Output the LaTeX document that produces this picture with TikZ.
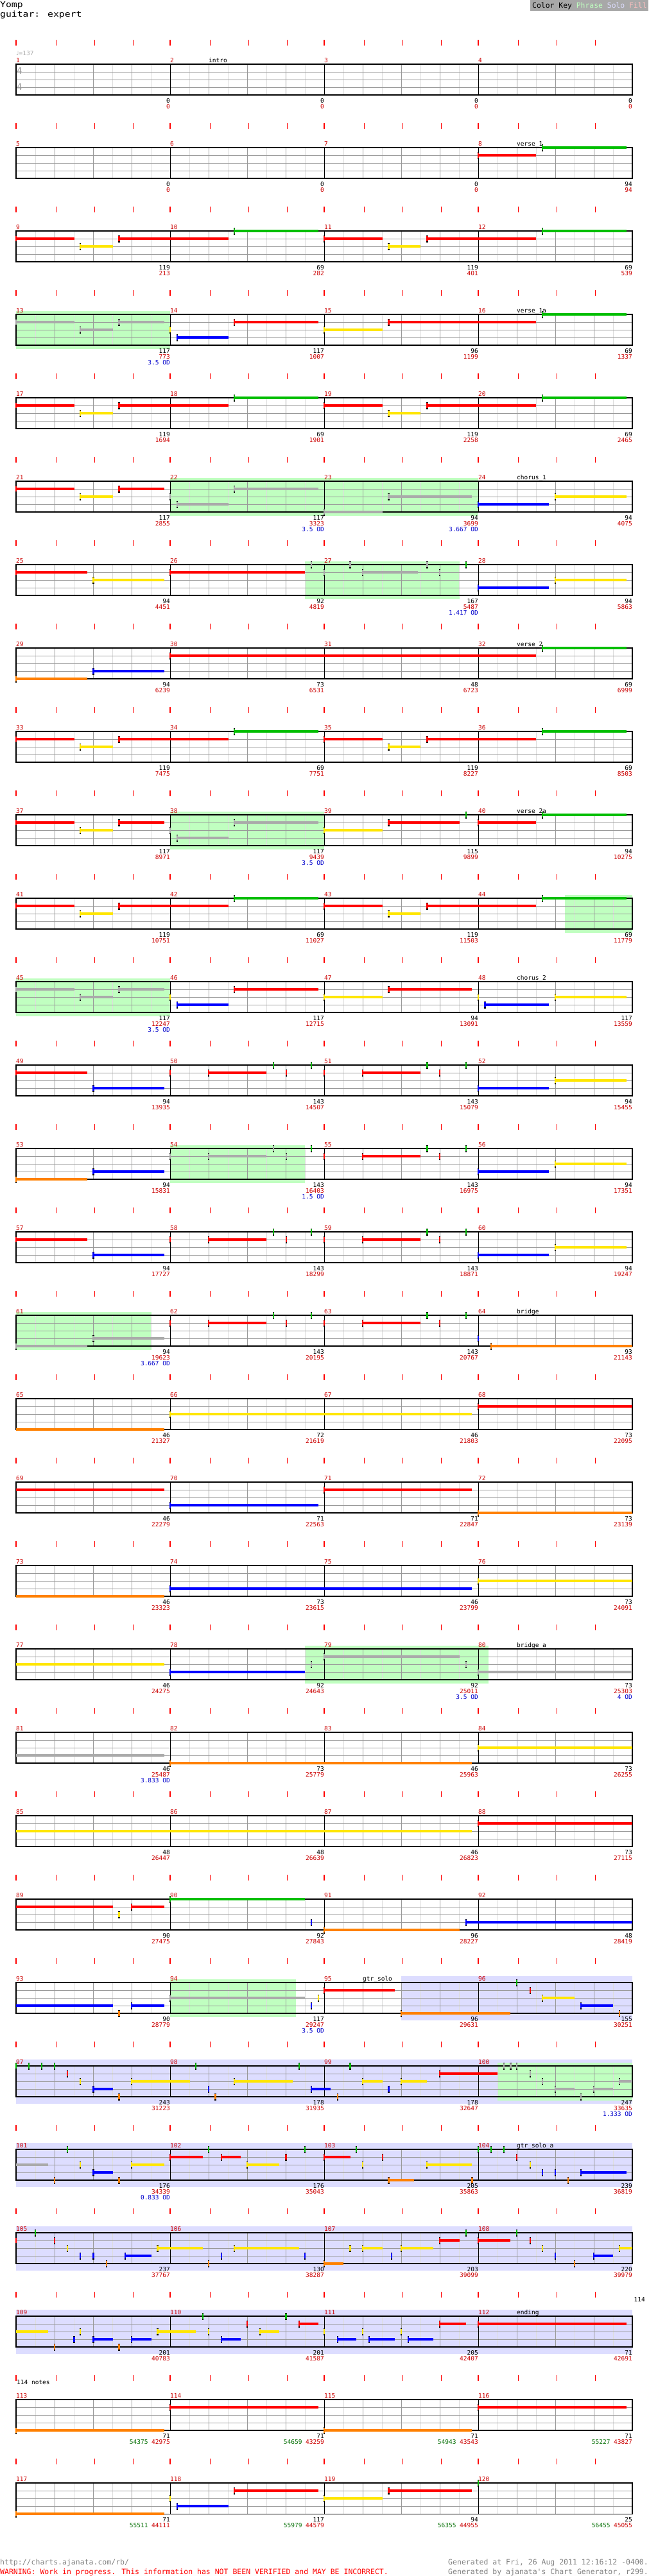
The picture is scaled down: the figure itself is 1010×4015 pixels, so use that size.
\documentclass[tikz,border=0pt]{standalone}
\usepackage{fontspec}
\newfontfamily\mf{DejaVu Sans Mono}
\newfontfamily\mfw[FakeStretch=1.18]{DejaVu Sans Mono}
\newfontfamily\symf{DejaVu Sans}
\definecolor{cG}{RGB}{0,190,0}
\definecolor{cR}{RGB}{255,0,0}
\definecolor{cY}{RGB}{255,230,0}
\definecolor{cB}{RGB}{0,0,255}
\definecolor{cO}{RGB}{255,128,0}
\definecolor{cX}{RGB}{170,170,170}
\definecolor{phrc}{RGB}{192,255,192}
\definecolor{soloc}{RGB}{221,221,255}
\definecolor{fillc}{RGB}{255,192,192}
\definecolor{keybg}{RGB}{168,168,168}
\definecolor{lgrid}{RGB}{221,221,221}
\definecolor{mgrid}{RGB}{153,153,153}
\definecolor{mnumc}{RGB}{204,0,0}
\definecolor{odc}{RGB}{0,0,204}
\definecolor{scoreg}{RGB}{0,110,0}
\definecolor{footg}{RGB}{128,128,128}
\tikzset{
  lab/.style={inner sep=0pt, font=\mf\fontsize{9.5}{11}\selectfont},
  foot/.style={inner sep=0pt, font=\mf\fontsize{11.5}{12}\selectfont},
}
\newcommand\rowtop[1]{\pgfmathsetmacro\Yt{100+130*(#1-1)}}
\newcommand\staff[1]{%
  \rowtop{#1}%
  \foreach \k in {1,3,...,31} {\draw[lgrid, line width=0.9pt] ({25+30*\k},\Yt) -- ({25+30*\k},{\Yt+48});}
  \foreach \k in {2,4,6,10,12,14,18,20,22,26,28,30} {\draw[mgrid, line width=0.9pt] ({25+30*\k},\Yt) -- ({25+30*\k},{\Yt+48});}
  \foreach \k in {1,2,3} {\draw[mgrid, line width=1pt] (25,{\Yt+12*\k}) -- (985,{\Yt+12*\k});}
  \foreach \k in {8,16,24} {\draw[black, line width=0.8pt] ({25+30*\k},\Yt) -- ({25+30*\k},{\Yt+48});}
  \draw[black, line width=1.1pt] (25,\Yt) rectangle (985,{\Yt+48});
  \foreach \k in {0,...,15} {\pgfmathsetmacro\tx{25+60*\k+ifthenelse(mod(\k,4)==0,0,2.5)}\draw[cR, line width=1.5pt] (\tx,{\Yt-38}) -- (\tx,{\Yt-29});}
  \foreach \ii in {0,...,3} {\pgfmathtruncatemacro\mm{4*(#1-1)+\ii+1}\node[lab, text=mnumc, anchor=base west] (mn\mm) at ({25+240*\ii},{\Yt-3}) {\mm};}
}
\newcommand\labs[2]{%
  \rowtop{#1}%
  \foreach \bb/\rr [count=\ii] in {#2} {%
    \node[lab, anchor=base east] (lb#1-\ii) at ({25+240*\ii},{\Yt+60}) {\bb};
    \node[lab, text=mnumc, anchor=base east] (lr#1-\ii) at ({25+240*\ii},{\Yt+69.5}) {\rr};}
}
\newcommand\labg[2]{%
  \rowtop{#1}%
  \foreach \bb/\gg/\rr [count=\ii] in {#2} {%
    \node[lab, anchor=base east] (lb#1-\ii) at ({25+240*\ii},{\Yt+60}) {\bb};
    \node[lab, anchor=base east] (lr#1-\ii) at ({25+240*\ii},{\Yt+69.5}) {\textcolor{scoreg}{\gg} \textcolor{mnumc}{\rr}};}
}
\newcommand\od[3]{\rowtop{#1}\node[lab, text=odc, anchor=base east] (od#1-#2) at ({25+240*#2},{\Yt+78.5}) {#3};}
\newcommand\phr[3]{\rowtop{#1}\fill[phrc] ({25+30*#2},{\Yt-5}) rectangle ({25+30*#3},{\Yt+54});}
\newcommand\solo[3]{\rowtop{#1}\fill[soloc] ({25+30*#2},{\Yt-10}) rectangle ({25+30*#3},{\Yt+59});}
\newcommand\sect[3]{\rowtop{#1}\node[lab, anchor=base west] (sec#1) at (#2,{\Yt-3}) {#3};}
\newcommand\ly[2]{\pgfmathsetmacro\ny{100+130*(#1-1)+12*#2}}
\newcommand\nC[5]{\ly{#1}{#2}\draw[#5, line width=3.5pt] ({25+30*#3},\ny) -- ({25+30*#4},\ny);}
\newcommand\nT[4]{\ly{#1}{#2}\draw[black, line width=2.4pt] ({25+30*#3},{\ny-5.5}) -- ({25+30*#3},{\ny+5.5});\draw[#4, line width=2.4pt] ({25+30*#3},{\ny-4}) -- ({25+30*#3},{\ny+4});}
\newcommand\nS[5]{\nC{#1}{#2}{#3}{#4}{#5}\nT{#1}{#2}{#3}{#5}}
\newcommand\verseA[1]{%
  \nS{#1}{1}{0}{3.03}{cR}\nS{#1}{2}{3.33}{5.03}{cY}\nS{#1}{1}{5.35}{11.04}{cR}\nS{#1}{0}{11.34}{15.7}{cG}%
  \nS{#1}{1}{16}{19.03}{cR}\nS{#1}{2}{19.35}{21}{cY}\nS{#1}{1}{21.35}{27}{cR}\nS{#1}{0}{27.33}{31.69}{cG}}
\newcommand\riffM[3]{\nT{#1}{1}{8}{#2}\nS{#1}{1}{10}{13}{#2}\nT{#1}{0}{13.36}{#3}\nT{#1}{1}{14.03}{#2}\nT{#1}{0}{15.33}{cG}}
\newcommand\riffR[1]{\nT{#1}{1}{16}{cR}\nS{#1}{1}{18}{21}{cR}\nT{#1}{0}{21.35}{cG}\nT{#1}{1}{22}{cR}\nT{#1}{0}{23.36}{cG}}
\newcommand\riffE[1]{\nS{#1}{3}{24}{27.68}{cB}\nS{#1}{2}{28}{31.69}{cY}}
\begin{document}
\begin{tikzpicture}[x=1pt,y=-1pt]
\useasboundingbox (0,0) rectangle (1010,4015);
\fill[white] (0,0) rectangle (1010,4015);
% header
\node[inner sep=0pt, font=\mfw\fontsize{12.5}{14}\selectfont, anchor=base west] (title) at (0,12) {Yomp};
\node[inner sep=0pt, font=\mfw\fontsize{12.5}{14}\selectfont, anchor=base west] (inst) at (0,26) {guitar: expert};
\fill[keybg] (826,0) rectangle (1010,16.5);
\node[inner sep=0pt, font=\mf\fontsize{11.4}{12}\selectfont, anchor=base west] (key) at (829,12.5) {Color Key \textcolor{phrc}{Phrase} \textcolor{soloc}{Solo} \textcolor{fillc}{Fill}};
% Row 1
\staff{1}\sect{1}{325}{intro}
\labs{1}{0/0,0/0,0/0,0/0}
\node[lab, text=cX, anchor=base west] (tempo) at (25,86) {{\symf ♩}=137};
\node[inner sep=0pt, font=\mf\fontsize{14}{14}\selectfont, text=mgrid, anchor=base west] (ts1) at (26,115) {4};
\node[inner sep=0pt, font=\mf\fontsize{14}{14}\selectfont, text=mgrid, anchor=base west] (ts2) at (26,140) {4};
% Row 2
\staff{2}\sect{2}{805}{verse\_1}
\nS{2}{1}{24}{27}{cR}\nS{2}{0}{27.33}{31.69}{cG}
\labs{2}{0/0,0/0,0/0,94/94}
% Row 3
\staff{3}\verseA{3}\labs{3}{119/213,69/282,119/401,69/539}
% Row 4
\phr{4}{0}{8}\staff{4}\sect{4}{805}{verse\_1a}
\nS{4}{1}{0}{3.03}{cX}\nS{4}{2}{3.33}{5.03}{cX}\nS{4}{1}{5.35}{7.69}{cX}\nT{4}{2}{8}{cY}\nS{4}{3}{8.36}{11.04}{cB}\nS{4}{1}{11.34}{15.7}{cR}\nS{4}{2}{16}{19.03}{cY}\nS{4}{1}{19.35}{27}{cR}\nS{4}{0}{27.33}{31.69}{cG}
\labs{4}{117/773,117/1007,96/1199,69/1337}\od{4}{1}{3.5 OD}
% Row 5
\staff{5}\verseA{5}\labs{5}{119/1694,69/1901,119/2258,69/2465}
% Row 6
\phr{6}{8}{24}\staff{6}\sect{6}{805}{chorus\_1}
\nS{6}{1}{0}{3.03}{cR}\nS{6}{2}{3.33}{5.03}{cY}\nS{6}{1}{5.35}{7.69}{cR}\nT{6}{2}{8}{cX}\nS{6}{3}{8.36}{11.04}{cX}\nS{6}{1}{11.34}{15.7}{cX}\nS{6}{4}{16}{19.03}{cX}\nS{6}{2}{19.35}{23.68}{cX}\nS{6}{3}{24}{27.68}{cB}\nS{6}{2}{28}{31.69}{cY}
\labs{6}{117/2855,117/3323,94/3699,94/4075}\od{6}{2}{3.5 OD}\od{6}{3}{3.667 OD}
% Row 7
\phr{7}{15}{23.02}\staff{7}
\nS{7}{1}{0}{3.7}{cR}\nS{7}{2}{4.02}{7.69}{cY}\nS{7}{1}{8}{15.01}{cR}\nT{7}{0}{15.33}{cX}\nT{7}{1}{16}{cX}\nT{7}{0}{17.35}{cX}\nS{7}{1}{18}{20.85}{cX}\nT{7}{0}{21.35}{cX}\nT{7}{1}{22}{cX}\nT{7}{0}{23.36}{cG}\nS{7}{3}{24}{27.68}{cB}\nS{7}{2}{28}{31.69}{cY}
\labs{7}{94/4451,92/4819,167/5487,94/5863}\od{7}{3}{1.417 OD}
% Row 8
\staff{8}\sect{8}{805}{verse\_2}
\nS{8}{4}{0}{3.7}{cO}\nS{8}{3}{4.02}{7.69}{cB}\nS{8}{1}{8}{27}{cR}\nS{8}{0}{27.33}{31.69}{cG}
\labs{8}{94/6239,73/6531,48/6723,69/6999}
% Row 9
\staff{9}\verseA{9}\labs{9}{119/7475,69/7751,119/8227,69/8503}
% Row 10
\phr{10}{8}{16}\staff{10}\sect{10}{805}{verse\_2a}
\nS{10}{1}{0}{3.03}{cR}\nS{10}{2}{3.33}{5.03}{cY}\nS{10}{1}{5.35}{7.69}{cR}\nT{10}{2}{8}{cX}\nS{10}{3}{8.36}{11.04}{cX}\nS{10}{1}{11.34}{15.7}{cX}\nS{10}{2}{16}{19.03}{cY}\nS{10}{1}{19.35}{23.02}{cR}\nT{10}{0}{23.36}{cG}\nS{10}{1}{24}{27}{cR}\nS{10}{0}{27.33}{31.69}{cG}
\labs{10}{117/8971,117/9439,115/9899,94/10275}\od{10}{2}{3.5 OD}
% Row 11
\phr{11}{28.5}{32}\staff{11}\verseA{11}\labs{11}{119/10751,69/11027,119/11503,69/11779}
% Row 12
\phr{12}{0}{8}\staff{12}\sect{12}{805}{chorus\_2}
\nS{12}{1}{0}{3.03}{cX}\nS{12}{2}{3.33}{5.03}{cX}\nS{12}{1}{5.35}{7.69}{cX}\nT{12}{2}{8}{cY}\nS{12}{3}{8.36}{11.04}{cB}\nS{12}{1}{11.34}{15.7}{cR}\nS{12}{2}{16}{19.03}{cY}\nS{12}{1}{19.35}{23.68}{cR}\nT{12}{2}{24}{cY}\nS{12}{3}{24.35}{27.68}{cB}\nS{12}{2}{28}{31.69}{cY}
\labs{12}{117/12247,117/12715,94/13091,117/13559}\od{12}{1}{3.5 OD}
% Row 13
\staff{13}\nS{13}{1}{0}{3.7}{cR}\nS{13}{3}{4.02}{7.69}{cB}\riffM{13}{cR}{cG}\riffR{13}\riffE{13}
\labs{13}{94/13935,143/14507,143/15079,94/15455}
% Row 14
\phr{14}{8}{15}\staff{14}\nS{14}{4}{0}{3.7}{cO}\nS{14}{3}{4.02}{7.69}{cB}\riffM{14}{cX}{cX}\riffR{14}\riffE{14}
\labs{14}{94/15831,143/16403,143/16975,94/17351}\od{14}{2}{1.5 OD}
% Row 15
\staff{15}\nS{15}{1}{0}{3.7}{cR}\nS{15}{3}{4.02}{7.69}{cB}\riffM{15}{cR}{cG}\riffR{15}\riffE{15}
\labs{15}{94/17727,143/18299,143/18871,94/19247}
% Row 16
\phr{16}{0}{7.02}\staff{16}\sect{16}{805}{bridge}
\nS{16}{4}{0}{3.7}{cX}\nS{16}{3}{4.02}{7.69}{cX}\riffM{16}{cR}{cG}\riffR{16}\nT{16}{3}{24}{cB}\nS{16}{4}{24.67}{32}{cO}
\labs{16}{94/19623,143/20195,143/20767,93/21143}\od{16}{1}{3.667 OD}
% Row 17
\staff{17}\nC{17}{4}{0}{7.69}{cO}\nS{17}{2}{8}{23.68}{cY}\nS{17}{1}{24}{32}{cR}
\labs{17}{46/21327,72/21619,46/21803,73/22095}
% Row 18
\staff{18}\nC{18}{1}{0}{7.69}{cR}\nS{18}{3}{8}{15.7}{cB}\nS{18}{1}{16}{23.68}{cR}\nS{18}{4}{24}{32}{cO}
\labs{18}{46/22279,71/22563,71/22847,73/23139}
% Row 19
\staff{19}\nC{19}{4}{0}{7.69}{cO}\nS{19}{3}{8}{23.68}{cB}\nS{19}{2}{24}{32}{cY}
\labs{19}{46/23323,73/23615,46/23799,73/24091}
% Row 20
\phr{20}{15}{24.52}\staff{20}\sect{20}{805}{bridge\_a}
\nC{20}{2}{0}{7.69}{cY}\nS{20}{3}{8}{15}{cB}\nT{20}{2}{15.33}{cX}\nS{20}{1}{16}{23.02}{cX}\nT{20}{2}{23.36}{cX}\nS{20}{3}{24}{32}{cX}
\labs{20}{46/24275,92/24643,92/25011,73/25303}\od{20}{3}{3.5 OD}\od{20}{4}{4 OD}
% Row 21
\staff{21}\nC{21}{3}{0}{7.69}{cX}\nS{21}{4}{8}{23.68}{cO}\nS{21}{2}{24}{32}{cY}
\labs{21}{46/25487,73/25779,46/25963,73/26255}\od{21}{1}{3.833 OD}
% Row 22
\staff{22}\nC{22}{2}{0}{23.68}{cY}\nS{22}{1}{24}{32}{cR}
\labs{22}{48/26447,48/26639,46/26823,73/27115}
% Row 23
\staff{23}\nC{23}{1}{0}{5.03}{cR}\nT{23}{2}{5.35}{cY}\nS{23}{1}{6}{7.69}{cR}\nS{23}{0}{8}{15}{cG}\nT{23}{3}{15.33}{cB}\nS{23}{4}{16}{23.02}{cO}\nS{23}{3}{23.36}{32}{cB}
\labs{23}{90/27475,92/27843,96/28227,48/28419}
% Row 24
\solo{24}{20}{32}\phr{24}{8}{14.52}\staff{24}\sect{24}{565}{gtr\_solo}
\nC{24}{3}{0}{5.03}{cB}\nT{24}{4}{5.35}{cO}\nS{24}{3}{6}{7.69}{cB}\nS{24}{2}{8}{15}{cX}\nT{24}{3}{15.33}{cB}\nT{24}{2}{15.7}{cY}\nS{24}{1}{16}{19.67}{cR}\nS{24}{4}{20}{25.68}{cO}\nT{24}{0}{26}{cG}\nT{24}{1}{26.69}{cR}\nS{24}{2}{27.33}{29}{cY}\nS{24}{3}{29.33}{31}{cB}\nT{24}{4}{31.33}{cO}
\labs{24}{90/28779,117/29247,96/29631,155/30251}\od{24}{2}{3.5 OD}
% Row 25
\solo{25}{0}{32}\phr{25}{25}{32}\staff{25}
\nT{25}{0}{0}{cG}\nT{25}{0}{0.67}{cG}\nT{25}{0}{1.34}{cG}\nT{25}{0}{2}{cG}\nT{25}{1}{2.67}{cR}\nT{25}{2}{3.33}{cY}\nS{25}{3}{4.02}{5.03}{cB}\nT{25}{4}{5.35}{cO}\nS{25}{2}{6}{9.02}{cY}\nT{25}{0}{9.34}{cG}\nT{25}{3}{10}{cB}\nT{25}{4}{10.35}{cO}\nS{25}{2}{11.34}{14.35}{cY}\nT{25}{0}{14.69}{cG}\nS{25}{3}{15.33}{16.34}{cB}\nT{25}{4}{16.69}{cO}\nT{25}{0}{17.35}{cG}\nS{25}{2}{18}{19.03}{cY}\nT{25}{3}{19.35}{cB}\nS{25}{2}{20}{21.34}{cY}\nS{25}{1}{22}{25}{cR}\nT{25}{0}{25.34}{cX}\nT{25}{0}{25.68}{cX}\nT{25}{0}{26}{cX}\nT{25}{1}{26.69}{cX}\nT{25}{2}{27.33}{cX}\nS{25}{3}{28}{29}{cX}\nT{25}{4}{29.33}{cX}\nS{25}{3}{30}{31}{cX}\nS{25}{2}{31.33}{32}{cX}
\labs{25}{243/31223,178/31935,178/32647,247/33635}\od{25}{4}{1.333 OD}
% Row 26
\solo{26}{0}{32}\staff{26}\sect{26}{805}{gtr\_solo\_a}
\nC{26}{2}{0}{1.68}{cX}\nT{26}{4}{2}{cO}\nT{26}{0}{2.67}{cG}\nT{26}{2}{3.34}{cY}\nS{26}{3}{4.02}{5.03}{cB}\nT{26}{4}{5.35}{cO}\nS{26}{2}{6}{7.69}{cY}\nS{26}{1}{8}{9.69}{cR}\nT{26}{0}{10}{cG}\nS{26}{1}{10.67}{11.68}{cR}\nS{26}{2}{12}{13.68}{cY}\nT{26}{1}{14.02}{cR}\nT{26}{0}{15}{cG}\nS{26}{1}{16}{17.35}{cR}\nT{26}{0}{17.67}{cG}\nT{26}{2}{18}{cY}\nT{26}{1}{19.03}{cR}\nS{26}{4}{19.35}{20.68}{cO}\nS{26}{2}{21.34}{23.68}{cY}\nT{26}{4}{23.68}{cO}\nT{26}{0}{24}{cG}\nT{26}{0}{24.67}{cG}\nT{26}{0}{25.34}{cG}\nT{26}{1}{26}{cR}\nT{26}{2}{26.69}{cY}\nT{26}{3}{27.33}{cB}\nT{26}{3}{28}{cB}\nT{26}{4}{28.66}{cO}\nS{26}{3}{29.33}{31.69}{cB}
\labs{26}{176/34339,176/35043,205/35863,239/36819}\od{26}{1}{0.833 OD}
% Row 27
\solo{27}{0}{32}\staff{27}
\nT{27}{1}{0}{cR}\nT{27}{0}{1}{cG}\nT{27}{1}{2}{cR}\nT{27}{2}{2.67}{cY}\nT{27}{3}{3.33}{cB}\nT{27}{3}{4.02}{cB}\nT{27}{4}{4.69}{cO}\nS{27}{3}{5.67}{7.02}{cB}\nS{27}{2}{7.35}{9.69}{cY}\nT{27}{4}{10}{cO}\nT{27}{3}{10.67}{cB}\nS{27}{2}{11.34}{14.69}{cY}\nT{27}{3}{15}{cB}\nS{27}{4}{16}{17.01}{cO}\nT{27}{2}{17.35}{cY}\nS{27}{2}{18}{19.03}{cY}\nT{27}{3}{19.5}{cB}\nS{27}{2}{20}{21.67}{cY}\nS{27}{1}{22}{23.02}{cR}\nT{27}{0}{23.36}{cG}\nS{27}{1}{24}{25.68}{cR}\nT{27}{0}{26}{cG}\nT{27}{1}{26.69}{cR}\nT{27}{2}{27.33}{cY}\nT{27}{3}{28}{cB}\nT{27}{4}{29}{cO}\nS{27}{3}{30}{31}{cB}\nS{27}{2}{31.33}{32}{cY}
\labs{27}{237/37767,130/38287,203/39099,220/39979}
% Row 28
\solo{28}{0}{32}\staff{28}\sect{28}{805}{ending}
\nC{28}{2}{0}{1.68}{cY}\nT{28}{4}{2}{cO}\nT{28}{3}{3.01}{cB}\nT{28}{2}{3.34}{cY}\nS{28}{3}{4.02}{5.03}{cB}\nT{28}{4}{5.35}{cO}\nS{28}{3}{6}{7.02}{cB}\nS{28}{2}{7.35}{9.34}{cY}\nT{28}{0}{9.69}{cG}\nT{28}{2}{10}{cY}\nS{28}{3}{10.67}{11.68}{cB}\nT{28}{1}{12}{cR}\nS{28}{2}{12.67}{13.68}{cY}\nT{28}{0}{14.02}{cG}\nS{28}{1}{14.69}{15.7}{cR}\nT{28}{2}{16}{cY}\nS{28}{3}{16.69}{17.67}{cB}\nT{28}{2}{18}{cY}\nS{28}{3}{18.34}{19.67}{cB}\nT{28}{2}{20}{cY}\nS{28}{3}{20.36}{21.67}{cB}\nS{28}{1}{22}{23.36}{cR}\nS{28}{1}{24}{31.69}{cR}
\labs{28}{201/40783,201/41587,205/42407,71/42691}
\node[lab, anchor=base east] (n114) at (1005,3587) {114};
% Row 29
\staff{29}\nS{29}{4}{0}{7.69}{cO}\nS{29}{1}{8}{15.7}{cR}\nS{29}{4}{16}{23.68}{cO}\nS{29}{1}{24}{31.69}{cR}
\labg{29}{71/54375/42975,71/54659/43259,71/54943/43543,71/55227/43827}
\node[lab, anchor=base west] (notes) at (26,3716) {114 notes};
% Row 30
\staff{30}\nS{30}{4}{0}{7.69}{cO}\nT{30}{2}{8}{cY}\nS{30}{3}{8.36}{11.04}{cB}\nS{30}{1}{11.34}{15.7}{cR}\nS{30}{2}{16}{19.03}{cY}\nS{30}{1}{19.35}{23.68}{cR}\nT{30}{0}{24}{cG}
\labg{30}{71/55511/44111,117/55979/44579,94/56355/44955,25/56455/45055}
% footer
\node[foot, text=footg, anchor=base west] (url) at (0,3997) {http://charts.ajanata.com/rb/};
\node[foot, text=cR, anchor=base west] (warn) at (0,4012) {WARNING: Work in progress. This information has NOT BEEN VERIFIED and MAY BE INCORRECT.};
\node[foot, text=footg, anchor=base east] (gen1) at (1010,3997) {Generated at Fri, 26 Aug 2011 12:16:12 -0400.};
\node[foot, text=footg, anchor=base east] (gen2) at (1010,4012) {Generated by ajanata's Chart Generator, r299.};
\end{tikzpicture}
\end{document}
